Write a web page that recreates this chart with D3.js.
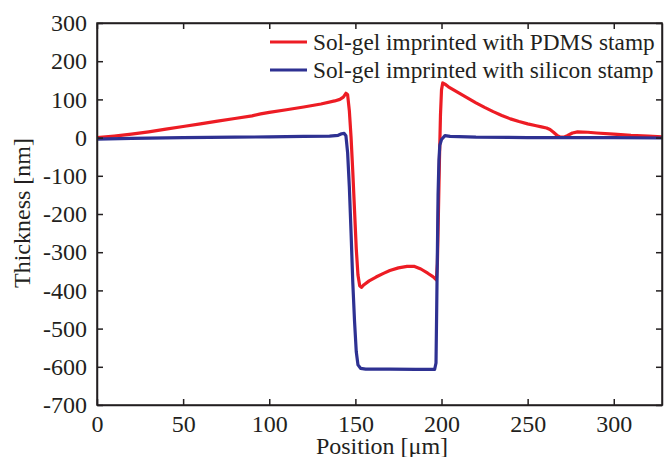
<!DOCTYPE html>
<html>
<head>
<meta charset="utf-8">
<script src="https://cdn.jsdelivr.net/npm/d3@7"></script>
<style>
  body { margin: 0; background: #fff; }
  svg text { font-family: "Liberation Serif", "Times New Roman", serif; fill: #231f20; }
</style>
</head>
<body>
<div id="canvas"></div>
<script>
"use strict"

/* Configuration variables: drawing */
let svgWidth = 664;
let svgHeight = 457;
let plotLeft = 97, plotRight = 662, plotTop = 23, plotBottom = 405;

/* Data */
let seriesNames = ["Sol-gel imprinted with PDMS stamp", "Sol-gel imprinted with silicon stamp"];
let seriesColors = ["#ed1c24", "#2e3192"];

let pdmsX = [0, 10, 20, 30, 40, 50, 60, 70, 80, 90, 95, 100, 110, 120, 130, 138, 141, 143, 144.5, 145.5,
             146.5, 147.5, 148.5, 149.5, 150.5, 151.5, 152.5, 153.5, 155, 158, 162, 166, 170, 175, 180, 184,
             188, 192, 195, 197, 197.6, 198.2, 198.8, 199.4, 200, 200.7, 202, 204, 207, 210, 215, 220, 225,
             230, 235, 240, 245, 250, 255, 258, 261, 263, 265, 267, 269, 271, 273, 276, 279, 285, 290, 300,
             310, 320, 328];
let pdmsY = [0, 4, 9, 15, 22, 29, 36, 43, 50, 57, 62, 66, 73, 80, 88, 96, 100, 106, 116, 112,
             70, 0, -90, -190, -290, -360, -388, -392, -385, -375, -365, -356, -348, -341, -337, -337,
             -344, -355, -364, -372, -330, -200, -60, 60, 125, 143, 140, 133, 125, 117, 104, 91, 79,
             68, 58, 49, 42, 36, 31, 28, 25, 21, 14, 6, 1, 1, 5, 12, 15, 14, 12, 9,
             6, 4, 2];

let siliconX = [0, 20, 50, 80, 100, 120, 135, 140, 142, 143.5, 144.5, 145.5, 146.5, 147.5, 148.5, 149.5,
                150.5, 151.5, 153, 156, 170, 185, 196, 196.8, 197.2, 197.6, 198, 198.5, 199, 200, 202,
                205, 220, 250, 280, 300, 328];
let siliconY = [-4, -2, 0, 1, 2, 3, 4, 6, 10, 11, 5, -40, -130, -250, -380, -480,
                -560, -595, -604, -606, -606, -607, -607, -590, -450, -300, -150, -60, -20, -5, 5,
                3, 1, 0, 0, 0, -1];

let xTicks = [0, 50, 100, 150, 200, 250, 300];
let yTicks = [300, 200, 100, 0, -100, -200, -300, -400, -500, -600, -700];

/* Create drawing canvas */
let svg = d3.select("#canvas")
    .append("svg")
    .attr("width", svgWidth)
    .attr("height", svgHeight);

let xScale = d3.scaleLinear()
    .domain([0, 328])
    .range([plotLeft, plotRight]);

let yScale = d3.scaleLinear()
    .domain([-700, 300])
    .range([plotBottom, plotTop]);

/* Curves */
let line = d3.line()
    .x(d => xScale(d[0]))
    .y(d => yScale(d[1]));

svg.append("clipPath").attr("id", "plotclip")
    .append("rect")
    .attr("x", plotLeft).attr("y", plotTop)
    .attr("width", plotRight - plotLeft).attr("height", plotBottom - plotTop);

let curves = [d3.zip(pdmsX, pdmsY), d3.zip(siliconX, siliconY)];

svg.append("g")
    .attr("clip-path", "url(#plotclip)")
    .selectAll("path")
    .data(curves)
    .join("path")
    .attr("d", line)
    .attr("fill", "none")
    .attr("stroke", (d, i) => seriesColors[i])
    .attr("stroke-width", 3.2)
    .attr("stroke-linejoin", "round");

/* Box and axes (ticks inward), plain hyphen for negatives */
let plainFormat = d => String(d);

svg.append("g")
    .attr("transform", "translate(0," + plotBottom + ")")
    .call(d3.axisBottom(xScale).tickValues(xTicks).tickSizeInner(-6).tickSizeOuter(0)
        .tickPadding(10).tickFormat(plainFormat))
    .call(g => g.selectAll("text").style("font-size", "24px").attr("dy", "0.71em"));

svg.append("g")
    .attr("transform", "translate(0," + plotTop + ")")
    .call(d3.axisTop(xScale).tickValues(xTicks).tickSizeInner(-6).tickSizeOuter(0).tickFormat(""));

svg.append("g")
    .attr("transform", "translate(" + plotLeft + ",0)")
    .call(d3.axisLeft(yScale).tickValues(yTicks).tickSizeInner(-6).tickSizeOuter(0)
        .tickPadding(10).tickFormat(plainFormat))
    .call(g => g.selectAll("text").style("font-size", "24px"));

svg.append("g")
    .attr("transform", "translate(" + plotRight + ",0)")
    .call(d3.axisRight(yScale).tickValues(yTicks).tickSizeInner(-6).tickSizeOuter(0).tickFormat(""));

svg.selectAll(".domain, .tick line")
    .attr("stroke", "#231f20")
    .attr("stroke-width", 1.5);

svg.append("rect")
    .attr("x", plotLeft).attr("y", plotTop)
    .attr("width", plotRight - plotLeft).attr("height", plotBottom - plotTop)
    .attr("fill", "none")
    .attr("stroke", "#231f20")
    .attr("stroke-width", 1.5);

/* Axis labels */
svg.append("text")
    .attr("x", 382)
    .attr("y", 454)
    .attr("text-anchor", "middle")
    .style("font-size", "24px")
    .text("Position [\u03bcm]");

svg.append("text")
    .attr("transform", "translate(30," + 213 + ") rotate(-90)")
    .attr("text-anchor", "middle")
    .style("font-size", "24px")
    .text("Thickness [nm]");

/* Legend */
let legend = svg.append("g");
seriesNames.forEach(function (name, i) {
    let y = 42 + i * 28;
    legend.append("line")
        .attr("x1", 270).attr("x2", 307)
        .attr("y1", y).attr("y2", y)
        .attr("stroke", seriesColors[i])
        .attr("stroke-width", 3.2);
    legend.append("text")
        .attr("x", 313)
        .attr("y", y + 8)
        .style("font-size", "23.3px")
        .text(name);
});
</script>
</body>
</html>
